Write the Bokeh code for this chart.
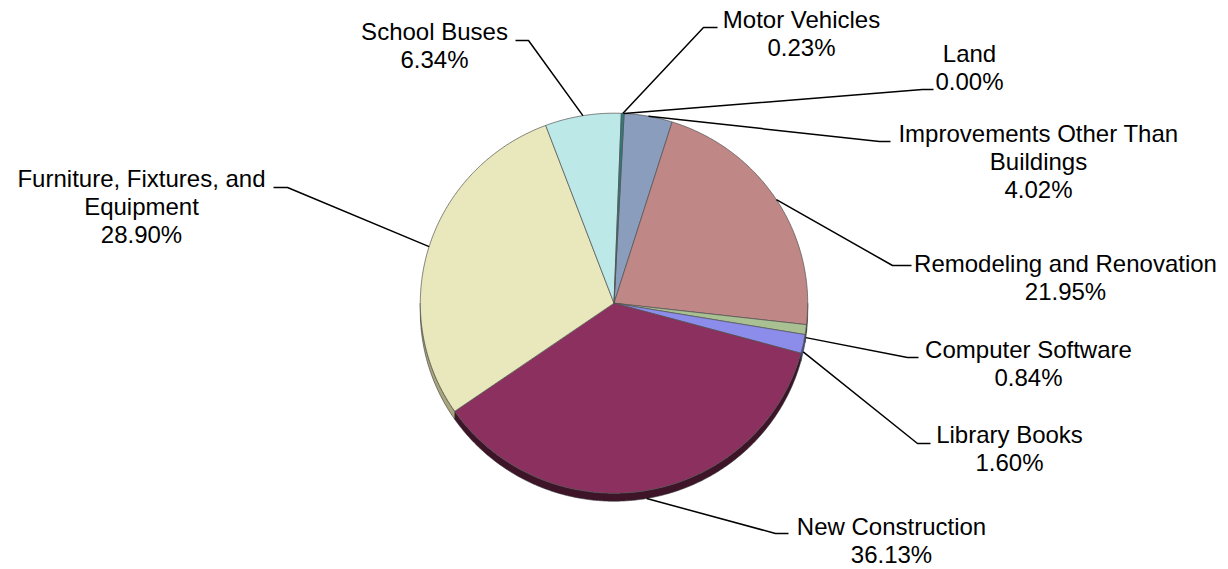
import numpy as np
from bokeh.plotting import figure
from bokeh.models import Range1d
from bokeh.embed import file_html
from bokeh.resources import INLINE
from bokeh.core.properties import value

# ---------------- data ----------------
categories = ["Land", "Improvements Other Than Buildings", "Remodeling and Renovation",
              "Computer Software", "Library Books", "New Construction",
              "Furniture, Fixtures, and Equipment", "School Buses", "Motor Vehicles"]
shares = [0.00, 4.02, 21.95, 0.84, 1.60, 36.13, 28.90, 6.34, 0.23]
label_lines = [["Land"], ["Improvements Other Than", "Buildings"], ["Remodeling and Renovation"],
               ["Computer Software"], ["Library Books"], ["New Construction"],
               ["Furniture, Fixtures, and", "Equipment"], ["School Buses"], ["Motor Vehicles"]]

# ---------------- styles / layout ----------------
top_colors = ["#D9A05B", "#8A9DBD", "#C08787", "#A9C192", "#8C8CEB",
              "#8C305F", "#E9E7BC", "#BDE8E8", "#2A7E80"]
side_colors = ["#8A6030", "#55627A", "#7A5050", "#6A7A5A", "#4E4EA0",
               "#3D1428", "#A9A67E", "#7FA6A6", "#184848"]
CX, CY, RX, RY, DEPTH = 613.5, 302.7, 193.7, 190.0, 8.0
START_DEG = 3.0
# label first-line baseline centre, and leader elbow (x, y) + horizontal end x
label_pos = [(969, 62), (1038, 141.7), (1065, 272), (1028, 358), (1009, 443),
             (891, 535), (141, 187), (434, 40), (801, 28)]
leader_bend = [(922, 89, 933), (879, 141, 890), (892, 265, 911), (907, 357, 918),
               (917, 443, 930), (775, 533, 788), (287, 187, 273), (528, 40, 515),
               (703, 27, 717)]
LINE_STEP = 28
TEXT_DY = -9
FONT = "Liberation Sans"
W, H = 1228, 569

p = figure(width=W, height=H, output_backend="svg", toolbar_location=None,
           x_range=Range1d(0, W), y_range=Range1d(H, 0),
           x_axis_type=None, y_axis_type=None, min_border=0)
p.outline_line_color = None
p.grid.visible = False
p.background_fill_color = "white"
p.border_fill_color = "white"

total = sum(shares)
cum = np.concatenate([[0.0], np.cumsum(shares)])
a0 = START_DEG + cum[:-1] / total * 360.0
a1 = START_DEG + cum[1:] / total * 360.0


def arc(t_from, t_to, dy=0.0):
    n = max(2, int(abs(t_to - t_from) * 2) + 2)
    t = np.radians(np.linspace(t_from, t_to, n))
    return CX + RX * np.sin(t), CY - RY * np.cos(t) + dy


# sides (front half only)
sx, sy, sc = [], [], []
for i in range(len(shares)):
    lo, hi = max(a0[i], 90.0), min(a1[i], 270.0)
    if hi > lo:
        xt, yt = arc(lo, hi)
        xb, yb = arc(lo, hi, DEPTH)
        sx.append(list(xt) + list(xb[::-1]))
        sy.append(list(yt) + list(yb[::-1]))
        sc.append(side_colors[i])
p.patches(sx, sy, fill_color=sc, line_color="#333333", line_width=0.6)

# top faces
tx, ty, tc = [], [], []
for i in range(len(shares)):
    if a1[i] - a0[i] <= 0:
        continue
    xa, ya = arc(a0[i], a1[i])
    tx.append([CX] + list(xa))
    ty.append([CY] + list(ya))
    tc.append(top_colors[i])
p.patches(tx, ty, fill_color=tc, line_color="#505050", line_width=0.7)

# leader lines
lx, ly = [], []
for i in range(len(shares)):
    mid = (a0[i] + a1[i]) / 2.0
    t = np.radians(mid)
    ax = CX + RX * np.sin(t)
    ay = CY - RY * np.cos(t)
    if 90.0 < (mid % 360) < 270.0:
        ay += DEPTH
    ex, ey, hx = leader_bend[i]
    lx.append([ax, ex, hx])
    ly.append([ay, ey, ey])
p.multi_line(lx, ly, line_color="black", line_width=1.5)

# labels
txs, tys, tts = [], [], []
for i in range(len(shares)):
    x0, y0 = label_pos[i]
    lines = label_lines[i] + ["%.2f%%" % shares[i]]
    for k, s in enumerate(lines):
        txs.append(x0)
        tys.append(y0 + k * LINE_STEP + TEXT_DY)
        tts.append(s)
p.text(x=txs, y=tys, text=tts, text_font=value(FONT), text_font_size="24px",
       text_align="center", text_baseline="alphabetic", text_color="black")

open("out.html", "w").write(file_html(p, INLINE))
